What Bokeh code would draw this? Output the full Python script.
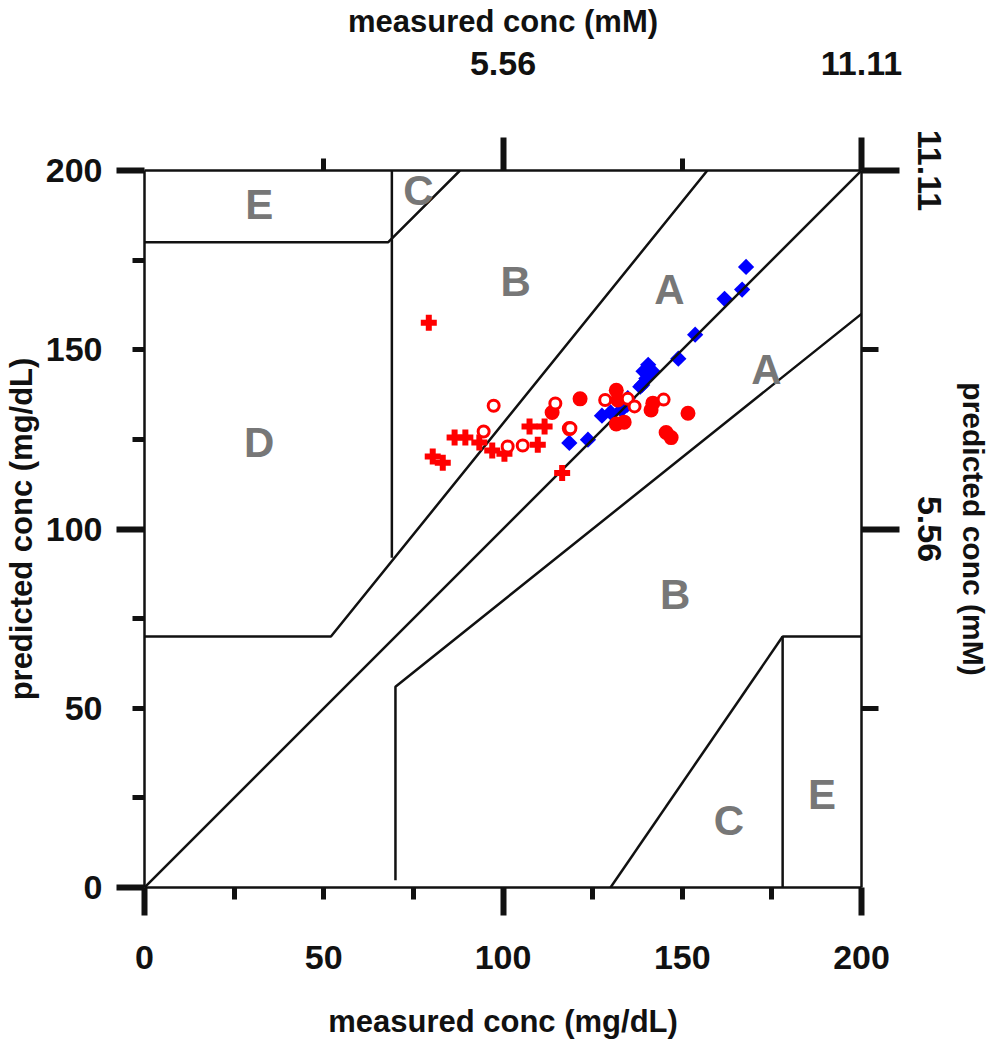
import math
from bokeh.plotting import figure
from bokeh.models import Range1d, LinearAxis, FixedTicker, CustomLabelingPolicy
from bokeh.embed import file_html
from bokeh.resources import INLINE
from bokeh.core.properties import value

FONT = "Liberation Sans"

# ---------------- data (mg/dL) ----------------
cross_x = [79.3, 80.4, 83.2, 86.5, 89.5, 93.4, 97.0, 100.4, 107.4, 111.6, 109.7, 116.5]
cross_y = [157.5, 120.2, 118.5, 125.5, 125.5, 124.1, 121.9, 121.0, 128.6, 128.6, 123.5, 115.6]

open_x = [97.4, 94.6, 101.3, 105.5, 114.6, 118.8, 128.5, 134.8, 136.7, 144.8]
open_y = [134.4, 127.2, 123.0, 123.3, 135.0, 128.1, 136.0, 136.3, 134.2, 136.1]

filled_x = [113.7, 121.5, 118.5, 131.6, 132.0, 131.6, 133.8, 141.3, 141.8, 151.6, 145.5, 146.9]
filled_y = [132.5, 136.3, 128.0, 138.7, 136.0, 129.3, 129.8, 133.2, 135.1, 132.3, 126.9, 125.5]

diam_x = [118.5, 123.7, 127.6, 130.0, 133.0, 134.6, 134.8, 138.3, 139.2, 141.7, 140.5, 140.0,
          138.8, 148.9, 153.6, 161.8, 166.7, 167.8]
diam_y = [124.0, 124.9, 131.6, 132.5, 133.2, 134.6, 136.5, 139.7, 144.0, 144.0, 145.8, 142.0,
          140.2, 147.5, 154.2, 164.2, 166.8, 173.1]

# zone boundaries of the error grid
zone_xs = [[0, 200], [0, 52, 157], [70, 70, 200], [0, 68, 88], [69, 69],
           [130, 178], [178, 178, 200]]
zone_ys = [[0, 200], [70, 70, 200], [2, 56, 160], [180, 180, 200], [92, 200],
           [0, 70], [0, 70, 70]]

zone_text = ["E", "C", "B", "A", "A", "D", "B", "C", "E"]
zone_tx = [32, 76.4, 103.5, 146.4, 173.5, 32, 148, 163, 189]
zone_ty = [190.5, 194.5, 169, 166.8, 144.4, 124, 81.6, 18.7, 26]

mgdl_ticks = [0, 50, 100, 150, 200]
mgdl_long = [0, 100, 200]
mgdl_short = [25, 50, 75, 125, 150, 175]
mm_ticks = [100, 200]
mm_short = [50, 150]
mm_labels = ["5.56", "11.11"]

# ---------------- figure ----------------
p = figure(frame_width=717, frame_height=717, x_range=Range1d(0, 200), y_range=Range1d(0, 200),
           x_axis_type=None, y_axis_type=None, output_backend="svg", toolbar_location=None,
           min_border_left=137, min_border_right=133, min_border_top=162, min_border_bottom=150)
p.outline_line_color = None
p.background_fill_color = "white"
p.border_fill_color = "white"

INK = "#111111"


def tick_axis(ticks, minor, long_out, short_out):
    # ticks only: labels filtered away
    return LinearAxis(ticker=FixedTicker(ticks=ticks, minor_ticks=minor),
                      major_tick_out=long_out, major_tick_in=0,
                      minor_tick_out=short_out, minor_tick_in=0,
                      major_tick_line_width=6, minor_tick_line_width=5,
                      major_tick_line_color=INK, minor_tick_line_color=INK,
                      axis_line_width=2.5, axis_line_color=INK,
                      major_label_policy=CustomLabelingPolicy(code="return []"),
                      major_label_text_font_size="0px", major_label_standoff=0,
                      axis_label=None)


def label_axis(ticks, title, standoff, title_standoff, title_size="31px"):
    # labels only, no ticks, no line
    return LinearAxis(ticker=FixedTicker(ticks=ticks, minor_ticks=[]),
                      major_tick_out=0, major_tick_in=0, minor_tick_out=0, minor_tick_in=0,
                      axis_line_color=None, major_tick_line_color=None, minor_tick_line_color=None,
                      major_label_text_font=FONT, major_label_text_font_size="34px",
                      major_label_text_font_style="bold", major_label_text_color=INK,
                      major_label_standoff=standoff,
                      axis_label=title, axis_label_text_font=FONT,
                      axis_label_text_font_size=title_size, axis_label_text_font_style="bold",
                      axis_label_text_color=INK, axis_label_standoff=title_standoff)


def mm_axis(long_out, short_out, title, standoff, title_standoff, orient, title_size):
    return LinearAxis(ticker=FixedTicker(ticks=mm_ticks, minor_ticks=mm_short),
                      major_tick_out=long_out, major_tick_in=0,
                      minor_tick_out=short_out, minor_tick_in=0,
                      major_tick_line_width=6, minor_tick_line_width=5,
                      major_tick_line_color=INK, minor_tick_line_color=INK,
                      axis_line_width=2.5, axis_line_color=INK,
                      major_label_overrides={t: s for t, s in zip(mm_ticks, mm_labels)},
                      major_label_text_font=FONT, major_label_text_font_size="34px",
                      major_label_text_font_style="bold", major_label_text_color=INK,
                      major_label_standoff=standoff, major_label_orientation=orient,
                      axis_label=title, axis_label_text_font=FONT,
                      axis_label_text_font_size=title_size, axis_label_text_font_style="bold",
                      axis_label_text_color=INK, axis_label_standoff=title_standoff)


# mg/dL axes: inner tick axis + outer label axis
p.add_layout(tick_axis(mgdl_long, mgdl_short, 28, 12), "below")
p.add_layout(tick_axis(mgdl_long, mgdl_short, 28, 12), "left")
p.add_layout(label_axis(mgdl_ticks, "measured conc (mg/dL)", 30, 32), "below")
p.add_layout(label_axis(mgdl_ticks, "predicted conc (mg/dL)", 14, 4), "left")

# mM axes
p.add_layout(mm_axis(33, 12, "measured conc (mM)", 63, 10, "horizontal", "31px"), "above")
p.add_layout(mm_axis(38, 17, "predicted conc (mM)", 18, 13, "parallel", "30px"), "right")

# markers and lines
p.scatter(diam_x, diam_y, marker="square", angle=math.pi / 4, size=11.5,
          fill_color="#0000ff", line_color=None)
p.multi_line(zone_xs, zone_ys, line_color=INK, line_width=2.5)
p.scatter(cross_x, cross_y, marker="plus", size=16, fill_color="#ff0000", line_color=None)
p.scatter(filled_x, filled_y, marker="circle", size=15, fill_color="#ff0000", line_color=None)
p.scatter(open_x, open_y, marker="circle", size=11, fill_color="white",
          line_color="#ff0000", line_width=3)

p.text(zone_tx, zone_ty, text=zone_text, text_font=value(FONT), text_font_style="bold",
       text_font_size="42px", text_color="#777777", text_align="center", text_baseline="middle")

open("out.html", "w").write(file_html(p, INLINE))
